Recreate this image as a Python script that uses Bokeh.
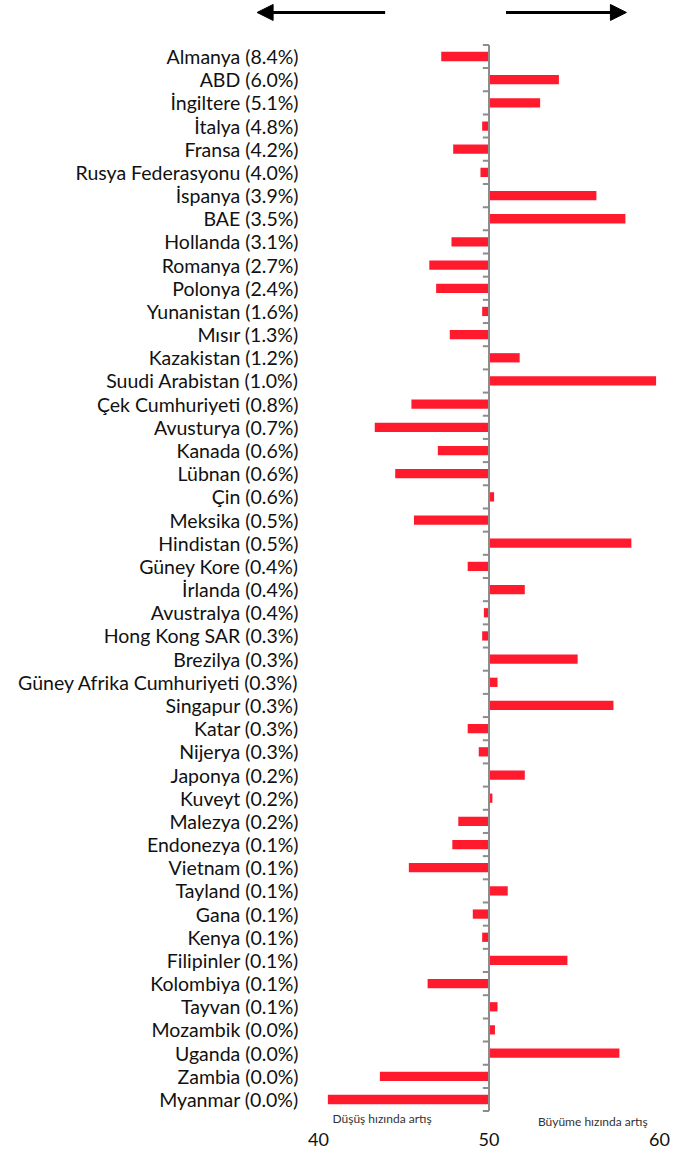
from bokeh.plotting import figure
from bokeh.models import Range1d, FixedTicker, Arrow, NormalHead
from bokeh.core.properties import value
from bokeh.embed import file_html
from bokeh.resources import INLINE

countries = ["Almanya", "ABD", "İngiltere", "İtalya", "Fransa", "Rusya Federasyonu",
             "İspanya", "BAE", "Hollanda", "Romanya", "Polonya", "Yunanistan", "Mısır",
             "Kazakistan", "Suudi Arabistan", "Çek Cumhuriyeti", "Avusturya", "Kanada",
             "Lübnan", "Çin", "Meksika", "Hindistan", "Güney Kore", "İrlanda", "Avustralya",
             "Hong Kong SAR", "Brezilya", "Güney Afrika Cumhuriyeti", "Singapur", "Katar",
             "Nijerya", "Japonya", "Kuveyt", "Malezya", "Endonezya", "Vietnam", "Tayland",
             "Gana", "Kenya", "Filipinler", "Kolombiya", "Tayvan", "Mozambik", "Uganda",
             "Zambia", "Myanmar"]
shares = [8.4, 6.0, 5.1, 4.8, 4.2, 4.0, 3.9, 3.5, 3.1, 2.7, 2.4, 1.6, 1.3, 1.2, 1.0,
          0.8, 0.7, 0.6, 0.6, 0.6, 0.5, 0.5, 0.4, 0.4, 0.4, 0.3, 0.3, 0.3, 0.3, 0.3,
          0.3, 0.2, 0.2, 0.2, 0.1, 0.1, 0.1, 0.1, 0.1, 0.1, 0.1, 0.1, 0.0, 0.0, 0.0, 0.0]
index_values = [47.2, 54.1, 53.0, 49.6, 47.9, 49.5, 56.3, 58.0, 47.8, 46.5, 46.9, 49.6,
                47.7, 51.8, 59.8, 45.45, 43.3, 47.0, 44.5, 50.3, 45.6, 58.35, 48.75, 52.1,
                49.7, 49.6, 55.2, 50.5, 57.3, 48.75, 49.4, 52.1, 50.2, 48.2, 47.85, 45.3,
                51.1, 49.05, 49.6, 54.6, 46.4, 50.5, 50.35, 57.65, 43.6, 40.55]
x_ticks = [40, 50, 60]
center_value = 50
left_note = "Düşüş hızında artış"
right_note = "Büyüme hızında artış"

labels = [f"{c} ({s:.1f}%)" for c, s in zip(countries, shares)]
rows = list(range(len(countries)))
n = len(countries)

FONT = "Lato"
RED = "#FF1A2E"
GREY = "#8C8C8C"

p = figure(width=689, height=1148, output_backend="svg", toolbar_location=None,
           x_range=Range1d(21.35, 61.76), y_range=Range1d(46.51, -2.416),
           min_border=0, min_border_left=0, min_border_right=0,
           min_border_top=0, min_border_bottom=0)
p.outline_line_color = None
p.grid.visible = False
p.yaxis.visible = False

xa = p.xaxis[0]
xa.ticker = FixedTicker(ticks=x_ticks)
xa.axis_line_color = None
xa.major_tick_line_color = None
xa.minor_tick_line_color = None
xa.major_label_text_font = FONT
xa.major_label_text_font_size = "18px"
xa.major_label_text_color = "#111111"
xa.major_label_standoff = -8

p.hbar(y=rows, left=center_value, right=index_values, height=0.4,
       fill_color=RED, line_color=None)

# central axis with boundary ticks
p.segment(x0=[center_value], x1=[center_value], y0=[-0.5], y1=[n - 0.5],
          line_color=GREY, line_width=2)
bounds = [k - 0.5 for k in range(n + 1)]
p.segment(x0=[center_value - 0.36] * len(bounds), x1=[center_value] * len(bounds),
          y0=bounds, y1=bounds, line_color=GREY, line_width=2)

p.text(x=[38.83] * n, y=rows, text=labels, text_align="right", text_baseline="middle",
       text_font=value(FONT), text_font_size="19.5px", text_color="#111111")

p.text(x=[40.82], y=[45.82], text=[left_note], text_align="left", text_baseline="middle",
       text_font=value(FONT), text_font_size="12px", text_color="#333333")
p.text(x=[52.87], y=[45.94], text=[right_note], text_align="left", text_baseline="middle",
       text_font=value(FONT), text_font_size="12px", text_color="#333333")

for xs, xe in [(43.91, 36.40), (51.0, 58.06)]:
    p.add_layout(Arrow(x_start=xs, x_end=xe, y_start=-1.9, y_end=-1.9,
                       line_width=3, line_color="black",
                       end=NormalHead(size=16, fill_color="black", line_color="black")))

open("out.html", "w").write(file_html(p, INLINE))
